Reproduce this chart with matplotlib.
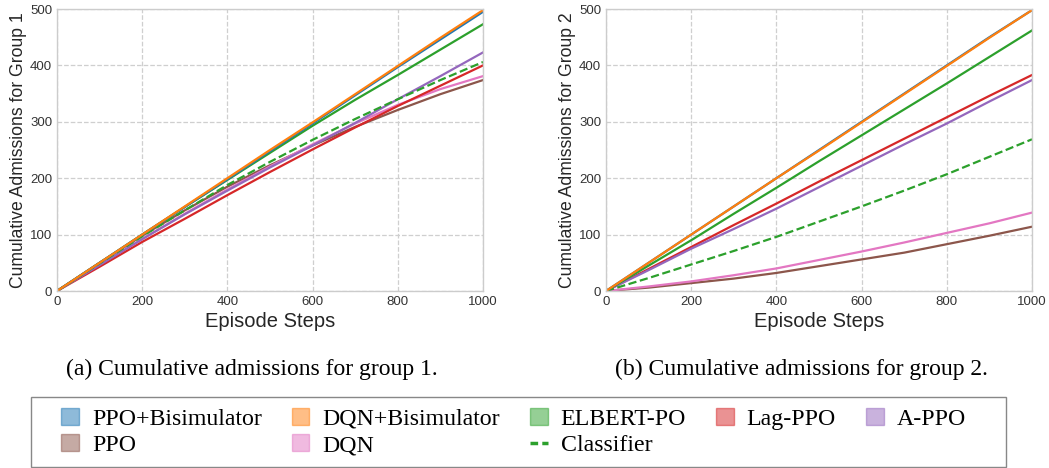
import matplotlib
matplotlib.use("Agg")
import matplotlib.pyplot as plt
from matplotlib.patches import Patch, Rectangle
from matplotlib.lines import Line2D
import numpy as np

steps = [0, 100, 200, 300, 400, 500, 600, 700, 800, 900, 1000]

# Group 1
g1_ppo_bisim = [0, 50, 100, 149, 198, 248, 297, 347, 397, 446, 495]
g1_dqn_bisim = [0, 50, 100, 150, 200, 250, 299, 349, 399, 449, 498]
g1_elbert = [0, 50, 100, 149, 197, 245, 293, 339, 383, 428, 473]
g1_lag_ppo = [0, 43, 87, 128, 170, 211, 251, 290, 328, 364, 400]
g1_a_ppo = [0, 46, 92, 136, 178, 219, 258, 298, 340, 381, 423]
g1_classifier = [0, 49, 97, 143, 188, 229, 268, 305, 340, 374, 406]
g1_ppo = [0, 50, 98, 143, 185, 223, 258, 291, 321, 349, 374]
g1_dqn = [0, 47, 92, 137, 180, 221, 260, 297, 330, 358, 381]

# Group 2
g2_ppo_bisim = [0, 50, 100, 150, 200, 250, 300, 350, 400, 450, 498]
g2_dqn_bisim = [0, 50, 100, 150, 200, 249, 299, 349, 399, 449, 498]
g2_elbert = [0, 45, 90, 137, 183, 230, 276, 322, 368, 415, 462]
g2_lag_ppo = [0, 39, 78, 117, 155, 194, 232, 270, 308, 346, 383]
g2_a_ppo = [0, 37, 75, 110, 146, 184, 222, 260, 297, 336, 374]
g2_classifier = [0, 23, 47, 71, 96, 123, 150, 178, 207, 238, 269]
g2_ppo = [0, 6, 14, 22, 32, 44, 56, 68, 83, 98, 114]
g2_dqn = [0, 8, 17, 28, 40, 55, 70, 86, 103, 120, 139]

labels = ["PPO+Bisimulator", "DQN+Bisimulator", "ELBERT-PO", "Lag-PPO", "A-PPO",
          "PPO", "DQN", "Classifier"]
colors = ["#1f77b4", "#ff7f0e", "#2ca02c", "#d62728", "#9467bd",
          "#8c564b", "#e377c2", "#2ca02c"]

group1 = [g1_ppo_bisim, g1_dqn_bisim, g1_elbert, g1_lag_ppo, g1_a_ppo, g1_ppo, g1_dqn, g1_classifier]
group2 = [g2_ppo_bisim, g2_dqn_bisim, g2_elbert, g2_lag_ppo, g2_a_ppo, g2_ppo, g2_dqn, g2_classifier]

plt.rcParams["font.family"] = ["Liberation Sans", "DejaVu Sans"]
SERIF = ["Liberation Serif", "DejaVu Serif"]

fig = plt.figure(figsize=(10.49, 4.68), dpi=100)
W, H = 1049, 468
ax1 = fig.add_axes([57 / W, 1 - 291 / H, 426 / W, 282 / H])
ax2 = fig.add_axes([606 / W, 1 - 291 / H, 426 / W, 282 / H])

draw_order = [5, 6, 3, 4, 7, 2, 0, 1]
for ax, data, ylab in [(ax1, group1, "Cumulative Admissions for Group 1"),
                       (ax2, group2, "Cumulative Admissions for Group 2")]:
    for i in draw_order:
        ls = "--" if labels[i] == "Classifier" else "-"
        ax.plot(steps, data[i], color=colors[i], lw=1.6, ls=ls)
    ax.set_xlim(0, 1000)
    ax.set_ylim(0, 500)
    ax.set_xticks([0, 200, 400, 600, 800, 1000])
    ax.set_yticks([0, 100, 200, 300, 400, 500])
    ax.grid(True, color="#cfcfcf", ls="--", lw=0.9)
    ax.set_axisbelow(True)
    for s in ax.spines.values():
        s.set_color("#cccccc")
        s.set_linewidth(1.0)
    ax.tick_params(axis="both", length=0, labelsize=9.5, colors="#333333", pad=3.5)
    ax.set_xlabel("Episode Steps", fontsize=14.5, color="#262626", labelpad=3)
    ax.set_ylabel(ylab, fontsize=12.7, color="#262626", labelpad=2)

fig.text(252 / W, 1 - 369 / H, "(a) Cumulative admissions for group 1.",
         family=SERIF, fontsize=17, ha="center", va="center")
fig.text(801 / W, 1 - 369 / H, "(b) Cumulative admissions for group 2.",
         family=SERIF, fontsize=17, ha="center", va="center")

# legend frame
fig.patches.append(Rectangle((31 / W, 1 - 467 / H), (1006 - 31) / W, 70 / H,
                             transform=fig.transFigure, facecolor="white",
                             edgecolor="#888888", lw=1.0, zorder=0))

handles = []
for i in range(7):
    handles.append(Patch(facecolor=colors[i], alpha=0.5, edgecolor=colors[i]))
handles.append(Line2D([0], [0], color=colors[7], lw=2.5, dashes=(2.2, 1.2)))

cols = [[0, 5], [1, 6], [2, 7], [3, None], [4, None]]
lh, ll = [], []
for c in cols:
    for r in c:
        if r is None:
            lh.append(Patch(facecolor="none", edgecolor="none"))
            ll.append("")
        else:
            lh.append(handles[r])
            ll.append(labels[r])

leg = fig.legend(lh, ll, ncol=5, loc="center left",
                 bbox_to_anchor=(61 / W, 1 - 432 / H),
                 prop={"family": SERIF, "size": 17.2},
                 frameon=False,
                 handlelength=0.75, handleheight=0.7, handletextpad=0.54,
                 columnspacing=1.25, labelspacing=0.2, borderpad=0.0,
                 borderaxespad=0)

fig.savefig("out.png", dpi=100)
